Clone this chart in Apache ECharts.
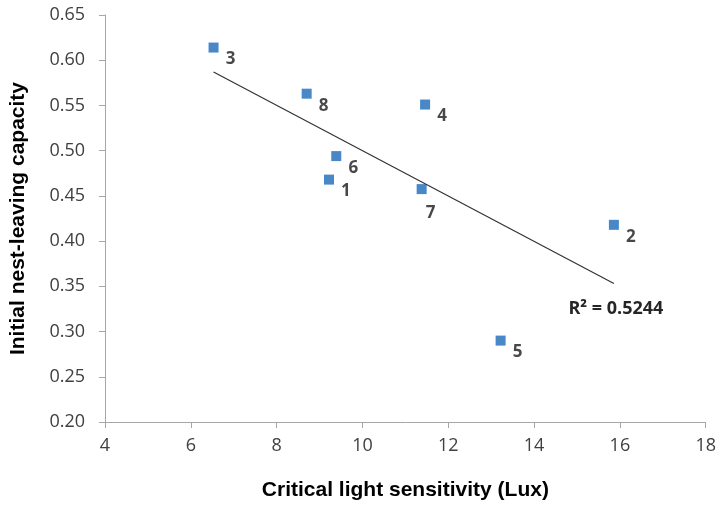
<!DOCTYPE html>
<html>
<head>
<meta charset="utf-8">
<script src="https://cdn.jsdelivr.net/npm/echarts@6/dist/echarts.min.js"></script>
<style>
	html, body { margin: 0; padding: 0; background: #fff; }
	#main { width: 719px; height: 506px; }
</style>
</head>
<body>
<div id="main"></div>
<script>
	// 数据
	var ids      = ['1', '2', '3', '4', '5', '6', '7', '8'];
	var lux      = [9.22, 15.86, 6.53, 11.46, 13.22, 9.39, 11.38, 8.70];
	var capacity = [0.468, 0.418, 0.614, 0.551, 0.290, 0.494, 0.4575, 0.563];
	var rSquaredText = 'R² = 0.5244';

	// 线性趋势线 (least squares on the points)
	var n = lux.length, mx = 0, my = 0;
	for (var i = 0; i < n; i++) { mx += lux[i]; my += capacity[i]; }
	mx /= n; my /= n;
	var sxy = 0, sxx = 0;
	for (var i = 0; i < n; i++) {
		sxy += (lux[i] - mx) * (capacity[i] - my);
		sxx += (lux[i] - mx) * (lux[i] - mx);
	}
	var slope = sxy / sxx;
	var xMin = Math.min.apply(null, lux), xMax = Math.max.apply(null, lux);
	var trend = [
		[xMin, my + slope * (xMin - mx)],
		[xMax, my + slope * (xMax - mx)]
	];

	var points = [];
	for (var i = 0; i < n; i++) {
		var item = { name: ids[i], value: [lux[i], capacity[i]] };
		if (ids[i] === '7') {
			item.label = { offset: [9, 24] };
		}
		points.push(item);
	}

	var chart = echarts.init(document.getElementById('main'));
	var option = {
		backgroundColor: '#fff',
		animation: false,
		grid: { left: 105, right: 13, top: 15, bottom: 82 },
		xAxis: {
			type: 'value',
			min: 4,
			max: 18,
			interval: 2,
			name: 'Critical light sensitivity (Lux)',
			nameLocation: 'middle',
			nameGap: 58,
			nameTextStyle: {
				fontFamily: 'Liberation Sans',
				fontWeight: 'bold',
				fontSize: 21,
				color: '#000',
				verticalAlign: 'top'
			},
			axisLine: { show: true, lineStyle: { color: '#a6a6a6', width: 1 } },
			axisTick: { show: true, length: 6, lineStyle: { color: '#a6a6a6' } },
			axisLabel: { color: '#404040', fontFamily: 'Open Sans', fontSize: 18, margin: 15 },
			splitLine: { show: false }
		},
		yAxis: {
			type: 'value',
			min: 0.2,
			max: 0.65,
			interval: 0.05,
			name: 'Initial nest-leaving capacity',
			nameLocation: 'middle',
			nameGap: 76,
			nameTextStyle: {
				fontFamily: 'Liberation Sans',
				fontWeight: 'bold',
				fontSize: 21,
				color: '#000'
			},
			axisLine: { show: true, lineStyle: { color: '#a6a6a6', width: 1 } },
			axisTick: { show: true, length: 6, lineStyle: { color: '#a6a6a6' } },
			axisLabel: {
				color: '#404040', fontFamily: 'Open Sans', fontSize: 18, margin: 20,
				formatter: function(v) { return v.toFixed(2); }
			},
			splitLine: { show: false }
		},
		series: [
			{
				name: 'trend',
				type: 'line',
				data: trend,
				symbol: 'none',
				silent: true,
				lineStyle: { color: '#333', width: 1.2 },
				markPoint: {
					symbol: 'circle',
					symbolSize: 0,
					silent: true,
					data: [{ coord: trend[1] }],
					label: {
						show: true,
						position: 'inside',
						offset: [2, 25],
						formatter: rSquaredText,
						fontFamily: 'Open Sans',
						fontWeight: 'bold',
						fontSize: 18,
						color: '#262626'
					}
				}
			},
			{
				name: 'points',
				type: 'scatter',
				data: points,
				symbol: 'rect',
				symbolSize: 10,
				itemStyle: { color: '#1b6ab9' },
				label: {
					show: true,
					position: 'inside',
					offset: [17, 12],
					formatter: '{b}',
					fontFamily: 'Open Sans',
					fontWeight: 'bold',
					fontSize: 17,
					color: '#1a1a1a'
				}
			}
		]
	};
	chart.setOption(option);
</script>
</body>
</html>
